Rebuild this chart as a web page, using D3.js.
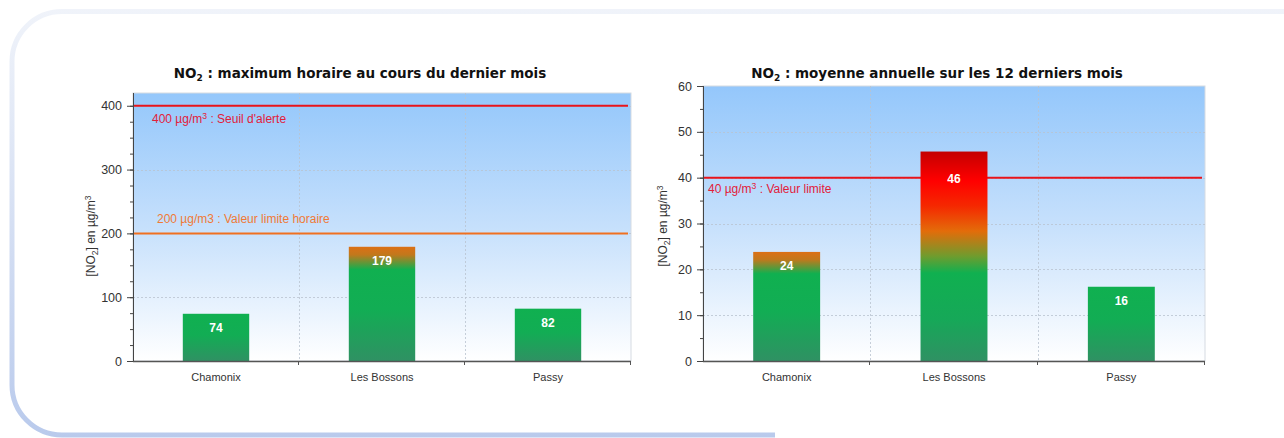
<!DOCTYPE html>
<html>
<head>
<meta charset="utf-8">
<script src="https://cdn.jsdelivr.net/npm/d3@7/dist/d3.min.js"></script>
<style>
  body { margin: 0; background: #fff; }
  svg { display: block; font-family: "Liberation Sans", Arial, sans-serif; }
</style>
</head>
<body>
<div id="my_dataviz"></div>
<script>
// stations and values
var stations = ["Chamonix", "Les Bossons", "Passy"];
var maxHoraire = [74, 179, 82];
var moyenneAnnuelle = [23.8, 45.7, 16.2];

var maxTicks = [0, 100, 200, 300, 400];
var moyTicks = [0, 10, 20, 30, 40, 50, 60];

var maxSeuils = [400, 200];
var maxSeuilLabels = ["400 µg/m|3| : Seuil d'alerte", "200 µg/m3 : Valeur limite horaire"];
var moySeuils = [40];
var moySeuilLabels = ["40 µg/m|3| : Valeur limite"];

var W = 1284, H = 438;

var svg = d3.select("#my_dataviz")
  .append("svg")
  .attr("width", W)
  .attr("height", H);

var defs = svg.append("defs");

// frame round the page
var fg = defs.append("linearGradient")
  .attr("id", "frameGrad")
  .attr("gradientUnits", "userSpaceOnUse")
  .attr("x1", 0).attr("y1", 0).attr("x2", 0).attr("y2", H);
fg.append("stop").attr("offset", 0).attr("stop-color", "#f1f4fa");
fg.append("stop").attr("offset", 0.3).attr("stop-color", "#e1e8f6");
fg.append("stop").attr("offset", 1).attr("stop-color", "#b9caec");

svg.append("path")
  .attr("d", "M" + W + ",11.5 L62,11.5 A50,50 0 0 0 12,61.5 L12,385 A50,50 0 0 0 62,435 L775,435")
  .attr("fill", "none")
  .attr("stroke", "url(#frameGrad)")
  .attr("stroke-width", 5);

// plot background
var bg = defs.append("linearGradient")
  .attr("id", "bgGrad")
  .attr("x1", 0).attr("y1", 0).attr("x2", 0).attr("y2", 1);
bg.append("stop").attr("offset", 0).attr("stop-color", "#94c7fb");
bg.append("stop").attr("offset", 0.5).attr("stop-color", "#c6e0fc");
bg.append("stop").attr("offset", 1).attr("stop-color", "#ffffff");

// bar fills, one per class (below half the limit, below the limit, above)
function barGrad(id, stops) {
  var g = defs.append("linearGradient")
    .attr("id", id)
    .attr("x1", 0).attr("y1", 0).attr("x2", 0).attr("y2", 1);
  stops.forEach(function(s) {
    g.append("stop").attr("offset", s[0]).attr("stop-color", s[1]);
  });
}
barGrad("barGreen", [[0, "#10b050"], [0.45, "#12ad54"], [1, "#2f9163"]]);
barGrad("barOrange", [[0, "#dc7016"], [0.07, "#c2781c"], [0.2, "#10b050"], [0.55, "#12ad54"], [1, "#2f9163"]]);
barGrad("barRed", [[0, "#c40000"], [0.14, "#ff0000"], [0.26, "#f52800"], [0.38, "#e36c0a"], [0.5, "#6f9c2e"], [0.58, "#10b050"], [0.8, "#16a858"], [1, "#2f9163"]]);

function richText(sel, str, supDy) {
  // parts between | | are set as superscript
  var parts = str.split("|");
  parts.forEach(function(p, i) {
    if (i % 2 == 1) {
      sel.append("tspan").attr("font-size", "0.72em").attr("dy", supDy).text(p);
    } else {
      sel.append("tspan").attr("dy", i == 0 ? 0 : -supDy).text(p);
    }
  });
}

function drawChart(o) {
  var g = svg.append("g");

  var x = d3.scaleBand()
    .domain(stations)
    .range([o.left, o.right]);
  var y = d3.scaleLinear()
    .domain(o.domain)
    .range([o.bottom, o.top]);

  // background
  g.append("rect")
    .attr("x", o.left).attr("y", o.top)
    .attr("width", o.right - o.left).attr("height", o.bottom - o.top)
    .attr("fill", "url(#bgGrad)")
    .attr("stroke", "#d6dbe2")
    .attr("stroke-width", 1);

  // grid
  g.append("g").selectAll("line")
    .data(o.ticks.filter(function(t) { return t > 0 && y(t) > o.top + 1; }))
    .enter().append("line")
    .attr("x1", o.left).attr("x2", o.right)
    .attr("y1", function(d) { return Math.round(y(d)) + 0.5; })
    .attr("y2", function(d) { return Math.round(y(d)) + 0.5; })
    .attr("stroke", "#b9c3cf")
    .attr("stroke-dasharray", "2 2")
    .attr("stroke-width", 0.8);
  g.append("g").selectAll("line")
    .data(stations.slice(1))
    .enter().append("line")
    .attr("x1", function(d) { return Math.round(x(d)) + 0.5; })
    .attr("x2", function(d) { return Math.round(x(d)) + 0.5; })
    .attr("y1", o.top).attr("y2", o.bottom)
    .attr("stroke", "#b9c3cf")
    .attr("stroke-dasharray", "2 2")
    .attr("stroke-width", 0.8);

  // limit lines drawn before the bars
  o.seuils.forEach(function(s, i) {
    g.append("line")
      .attr("x1", o.left + 1).attr("x2", o.right - 3)
      .attr("y1", y(s)).attr("y2", y(s))
      .attr("stroke", o.seuilColors[i])
      .attr("stroke-width", 2);
    var t = g.append("text")
      .attr("x", o.left + o.labelDx[i])
      .attr("y", y(s) + o.labelDy[i])
      .attr("font-size", 12)
      .attr("fill", o.labelColors[i]);
    richText(t, o.seuilLabels[i], -4);
  });

  // bars
  var bw = x.bandwidth() * 0.4;
  g.append("g").selectAll("rect")
    .data(o.values)
    .enter().append("rect")
    .attr("x", function(d, i) { return x(stations[i]) + (x.bandwidth() - bw) / 2; })
    .attr("y", function(d) { return y(d); })
    .attr("width", bw)
    .attr("height", function(d) { return y(0) - y(d); })
    .attr("fill", function(d) {
      if (d >= o.limit) return "url(#barRed)";
      if (d >= o.limit / 2) return "url(#barOrange)";
      return "url(#barGreen)";
    });

  g.append("g").selectAll("text")
    .data(o.values)
    .enter().append("text")
    .attr("x", function(d, i) { return x(stations[i]) + x.bandwidth() / 2; })
    .attr("y", function(d) { return d >= o.limit ? y(o.limit) + 5 : y(d) + 18; })
    .attr("text-anchor", "middle")
    .attr("font-size", 12)
    .attr("font-weight", "bold")
    .attr("fill", "#fff")
    .text(function(d) { return Math.round(d); });

  // y axis with minor ticks
  var minor = d3.range(o.domain[0], o.ticks[o.ticks.length - 1] + 0.001, o.minorStep);
  g.append("g")
    .attr("transform", "translate(" + o.left + ",0)")
    .call(d3.axisLeft(y).tickValues(minor).tickSize(3).tickFormat(""))
    .call(function(a) { a.select(".domain").remove(); })
    .selectAll("line").attr("stroke", "#444");
  var ya = g.append("g")
    .attr("transform", "translate(" + o.left + ",0)")
    .call(d3.axisLeft(y).tickValues(o.ticks).tickSize(6).tickPadding(5));
  ya.select(".domain").attr("d", "M0.5," + o.top + "V" + o.bottom).attr("stroke", "#444");
  ya.selectAll("line").attr("stroke", "#444");
  ya.selectAll("text")
    .attr("font-family", "Liberation Sans, Arial, sans-serif")
    .attr("font-size", 12.5).attr("fill", "#333");

  // x axis
  var xa = g.append("g")
    .attr("transform", "translate(0," + o.bottom + ")")
    .call(d3.axisBottom(x).tickSize(0).tickPadding(12));
  xa.select(".domain").attr("d", "M" + o.left + ",0.5H" + o.right).attr("stroke", "#555").attr("stroke-width", 1.5);
  xa.selectAll("text")
    .attr("font-family", "Liberation Sans, Arial, sans-serif")
    .attr("font-size", 11).attr("fill", "#333");
  g.append("g").selectAll("line")
    .data(stations.slice(1).map(function(s) { return x(s); }).concat([o.right]))
    .enter().append("line")
    .attr("x1", function(d) { return Math.round(d) - 0.5; })
    .attr("x2", function(d) { return Math.round(d) - 0.5; })
    .attr("y1", o.bottom).attr("y2", o.bottom + 4)
    .attr("stroke", "#555");

  // y title
  var yt = g.append("text")
    .attr("transform", "translate(" + o.yTitleX + "," + o.yTitleY + ")rotate(-90)")
    .attr("text-anchor", "middle")
    .attr("font-size", 12)
    .attr("fill", "#333");
  yt.append("tspan").text("[NO");
  yt.append("tspan").attr("font-size", 8.5).attr("dy", 3).text("2");
  yt.append("tspan").attr("dy", -3).text("] en µg/m");
  yt.append("tspan").attr("font-size", 8.5).attr("dy", -4).text("3");

  // title
  var tt = g.append("text")
    .attr("x", o.titleX)
    .attr("y", o.titleY)
    .attr("text-anchor", "middle")
    .style("font-family", "'DejaVu Sans', Verdana, sans-serif")
    .attr("font-weight", "bold")
    .attr("font-size", 13.5)
    .attr("fill", "#111");
  tt.append("tspan").text("NO");
  tt.append("tspan").attr("font-size", 9).attr("dy", 3).text("2");
  tt.append("tspan").attr("dy", -3).text(o.title);
}

drawChart({
  left: 133, right: 631, top: 93, bottom: 361,
  domain: [0, 420], ticks: maxTicks, minorStep: 25,
  values: maxHoraire, limit: 200,
  seuils: maxSeuils, seuilLabels: maxSeuilLabels,
  seuilColors: ["#e8141c", "#f07020"],
  labelColors: ["#e2203a", "#f07a35"],
  labelDx: [19, 24], labelDy: [17, -10],
  title: " : maximum horaire au cours du dernier mois",
  titleX: 360, titleY: 78,
  yTitleX: 95, yTitleY: 236
});

drawChart({
  left: 703, right: 1205, top: 86, bottom: 361,
  domain: [0, 60], ticks: moyTicks, minorStep: 5,
  values: moyenneAnnuelle, limit: 40,
  seuils: moySeuils, seuilLabels: moySeuilLabels,
  seuilColors: ["#e8141c"],
  labelColors: ["#e2203a"],
  labelDx: [5, 0], labelDy: [15, 0],
  title: " : moyenne annuelle sur les 12 derniers mois",
  titleX: 937, titleY: 78,
  yTitleX: 667, yTitleY: 226
});
</script>
</body>
</html>
